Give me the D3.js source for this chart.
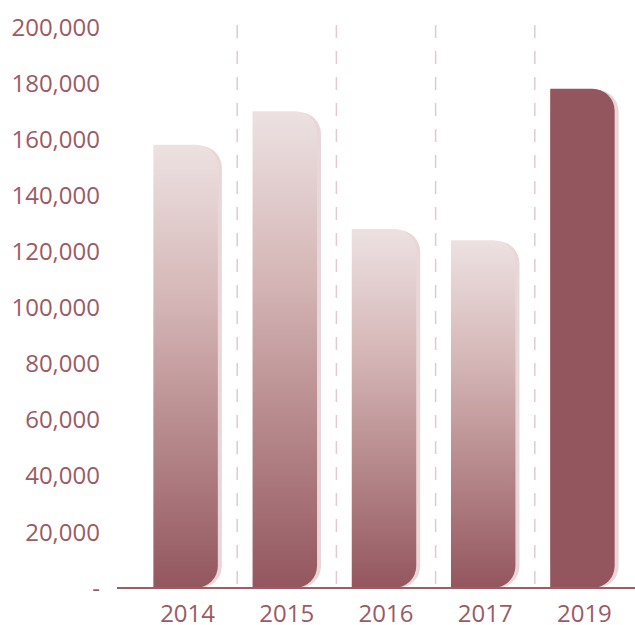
<!DOCTYPE html>
<html>
<head>
<meta charset="utf-8">
<script src="https://cdn.jsdelivr.net/npm/d3@7"></script>
<style>
  body { margin: 0; background: #fff; }
  text { font-family: "Open Sans", sans-serif; }
</style>
</head>
<body>
<svg id="chart" width="635" height="625"></svg>
<script>
let years = ["2014", "2015", "2016", "2017", "2019"];
let sales = [158000, 170000, 128000, 124000, 178000];
let highlight = ["2019"];
let yTicks = [0, 20000, 40000, 60000, 80000, 100000, 120000, 140000, 160000, 180000, 200000];

let svg = d3.select("#chart");
let textColor = "#9b5b64";
let dark = "#93565e";
let shadow = "#e9d7d7";

let y = d3.scaleLinear().domain([0, 200000]).range([588, 27]);
let x = d3
  .scaleBand()
  .domain(years)
  .range([138, 634])
  .paddingInner(0.35)
  .paddingOuter(0.175);

// gradient for the normal bars
let defs = svg.append("defs");
let grad = defs
  .append("linearGradient")
  .attr("id", "barGrad")
  .attr("x1", 0)
  .attr("y1", 0)
  .attr("x2", 0)
  .attr("y2", 1);
grad.append("stop").attr("offset", "0%").attr("stop-color", "#ede1e2");
grad.append("stop").attr("offset", "35%").attr("stop-color", "#d5b6b6");
grad.append("stop").attr("offset", "100%").attr("stop-color", "#93565e");

// dashed separators between bands
let step = x.step();
let seps = years.slice(0, -1).map(function (d) {
  return x(d) + x.bandwidth() + (step * x.paddingInner()) / 2;
});
svg
  .selectAll(".sep")
  .data(seps)
  .enter()
  .append("line")
  .attr("class", "sep")
  .attr("x1", (d) => d)
  .attr("x2", (d) => d)
  .attr("y1", y(200000) - 2)
  .attr("y2", y(0))
  .attr("stroke", "#e3c9ce")
  .attr("stroke-width", 1.5)
  .attr("stroke-dasharray", "13,13");

let r = 22;
function barPath(x0, w, top, base) {
  let rr = Math.min(r, (base - top) / 2);
  return (
    "M" + x0 + "," + top +
    "H" + (x0 + w - rr) +
    "A" + rr + "," + rr + " 0 0 1 " + (x0 + w) + "," + (top + rr) +
    "V" + (base - rr) +
    "A" + rr + "," + rr + " 0 0 1 " + (x0 + w - rr) + "," + base +
    "H" + x0 + "Z"
  );
}

let bars = svg
  .selectAll(".bar")
  .data(years)
  .enter()
  .append("g")
  .attr("class", "bar");

bars
  .append("path")
  .attr("d", function (d, i) {
    return barPath(x(d) - 2 + 4, x.bandwidth(), y(sales[i]) + 1, y(0));
  })
  .attr("fill", shadow);

bars
  .append("path")
  .attr("d", function (d, i) {
    return barPath(x(d) - 2, x.bandwidth(), y(sales[i]), y(0));
  })
  .attr("fill", function (d) {
    return highlight.includes(d) ? dark : "url(#barGrad)";
  });

// baseline
svg
  .append("line")
  .attr("x1", 117)
  .attr("x2", 635)
  .attr("y1", y(0))
  .attr("y2", y(0))
  .attr("stroke", "#9b5e66")
  .attr("stroke-width", 2);

// y labels
svg
  .selectAll(".ylab")
  .data(yTicks)
  .enter()
  .append("text")
  .attr("class", "ylab")
  .attr("x", 100)
  .attr("y", (d) => y(d))
  .attr("dy", "0.36em")
  .attr("text-anchor", "end")
  .attr("fill", textColor)
  .style("font-size", "24px")
  .text(function (d) {
    return d === 0 ? "-" : d3.format(",")(d);
  });

// x labels
svg
  .selectAll(".xlab")
  .data(years)
  .enter()
  .append("text")
  .attr("class", "xlab")
  .attr("x", (d) => x(d) + x.bandwidth() / 2)
  .attr("y", 622)
  .attr("text-anchor", "middle")
  .attr("fill", textColor)
  .style("font-size", "24px")
  .text((d) => d);
</script>
</body>
</html>
